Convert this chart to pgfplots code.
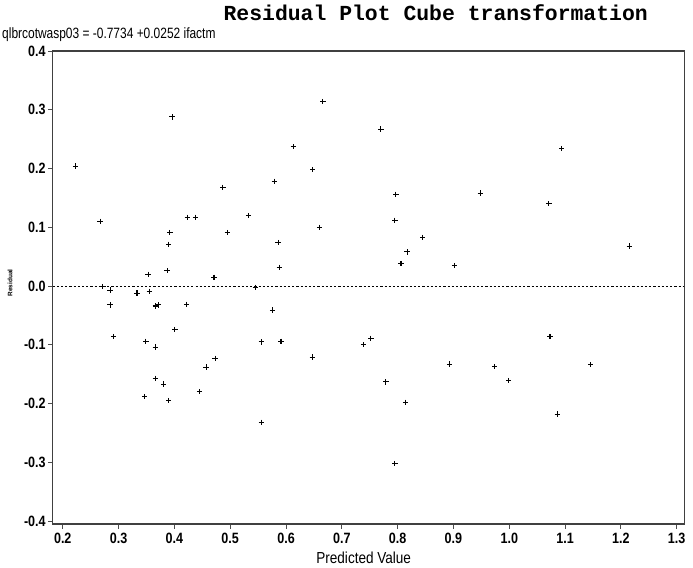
\documentclass[border=0pt]{standalone}
\usepackage{fontspec}
\usepackage{pgfplots}
\pgfplotsset{compat=1.18}
\setmainfont{Liberation Sans}
\newfontfamily\condfont[FakeStretch=0.8]{Liberation Sans}
\newfontfamily\tickfont[FakeStretch=0.84]{Liberation Sans}
\newfontfamily\labfont[FakeStretch=0.85]{Liberation Sans}
\newfontfamily\titlefont{Liberation Mono}

\pgfplotstableread{
x y
0.223 0.204
0.267 0.110
0.396 0.288
0.487 0.168
0.423 0.117
0.438 0.117
0.533 0.120
0.392 0.091
0.495 0.091
0.390 0.071
0.353 0.020
0.387 0.026
0.471 0.015
0.666 0.314
0.770 0.267
0.613 0.237
0.648 0.198
0.579 0.178
0.797 0.156
0.795 0.112
0.660 0.100
0.845 0.083
0.586 0.074
0.817 0.058
0.588 0.032
0.806 0.038
0.902 0.035
1.094 0.234
0.948 0.158
1.071 0.140
1.215 0.068
0.272 -0.001
0.285 -0.007
0.333 -0.012
0.355 -0.009
0.545 -0.002
0.285 -0.032
0.366 -0.034
0.371 -0.032
0.422 -0.031
0.401 -0.074
0.291 -0.086
0.349 -0.094
0.366 -0.104
0.556 -0.095
0.473 -0.123
0.457 -0.138
0.366 -0.157
0.381 -0.167
0.347 -0.188
0.445 -0.180
0.390 -0.195
0.556 -0.232
0.576 -0.041
0.591 -0.094
0.647 -0.121
0.739 -0.100
0.752 -0.089
0.893 -0.133
0.779 -0.163
0.814 -0.198
0.795 -0.302
1.073 -0.086
0.974 -0.137
1.146 -0.134
0.999 -0.161
1.086 -0.218
}\resid

\begin{document}
\begin{tikzpicture}
\begin{axis}[
  at={(0,0)}, anchor=south west,
  scale only axis, width=631.6bp, height=473bp,
  xmin=0.182, xmax=1.3136, ymin=-0.405, ymax=0.4,
  xtick={0.2,0.3,0.4,0.5,0.6,0.7,0.8,0.9,1.0,1.1,1.2,1.3},
  ytick={-0.4,-0.3,-0.2,-0.1,0,0.1,0.2,0.3,0.4},
  /pgf/number format/assume math mode=true,
  /pgf/number format/.cd, fixed, fixed zerofill, precision=1, /pgfplots/.cd,
  ticklabel style={font=\tickfont\bfseries\fontsize{15}{15}\selectfont, text=black},
  xticklabel style={yshift=-1bp},
  yticklabel style={xshift=1bp, inner ysep=1bp},
  tick align=outside, tick pos=left,
  major tick length=4.5bp,
  tick style={black!70, line width=0.9bp},
  axis line style={black!75, line width=1.4bp},
  clip=false,
]
\addplot[black, line width=0.9bp, dash pattern=on 2.2bp off 2bp] coordinates {(0.182,0) (1.3136,0)};
\addplot[only marks, mark=+, mark size=2.7bp, mark options={line width=1.05bp, black}] table[x=x,y=y] {\resid};
\end{axis}
\node[anchor=base, font=\titlefont\bfseries\fontsize{21.5}{22}\selectfont] at (383bp,503bp) {Residual Plot Cube transformation};
\node[anchor=base west, inner sep=0pt, font=\condfont\fontsize{15}{15}\selectfont] at (-50.7bp,485bp) {qlbrcotwasp03 = -0.7734 +0.0252 ifactm};
\node[anchor=base, inner sep=0pt, font=\labfont\fontsize{16}{16}\selectfont] at (311bp,-39bp) {Predicted Value};
\node[rotate=90, inner sep=0pt, font=\bfseries\fontsize{6.5}{7}\selectfont] at (-42.7bp,241bp) {Residual};
\pgfresetboundingbox
\path[use as bounding box] (-52.7bp,-44bp) rectangle (640.3bp,524bp);
\end{tikzpicture}
\end{document}
